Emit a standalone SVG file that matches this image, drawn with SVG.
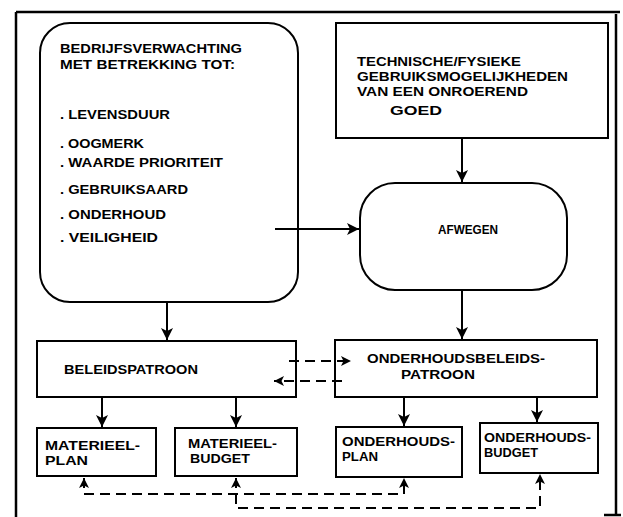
<svg xmlns="http://www.w3.org/2000/svg" width="623" height="517" viewBox="0 0 623 517">
<defs>
<marker id="ah" markerUnits="userSpaceOnUse" markerWidth="14" markerHeight="14" refX="12" refY="6" orient="auto-start-reverse" viewBox="0 0 14 12">
<path d="M0,0 L12,6 L0,12 L3,6 Z" fill="#000"/>
</marker>
<marker id="ahs" markerUnits="userSpaceOnUse" markerWidth="11" markerHeight="10" refX="10" refY="5" orient="auto-start-reverse" viewBox="0 0 11 10">
<path d="M0,0 L10,5 L0,10 L2.5,5 Z" fill="#000"/>
</marker>
</defs>
<style>
.box{fill:none;stroke:#000;stroke-width:2}
.t{font-family:"Liberation Sans",Arial,sans-serif;font-weight:bold;font-size:13px;fill:#000}
.c{fill:none;stroke:#000;stroke-width:2}
.d{fill:none;stroke:#000;stroke-width:2;stroke-dasharray:10 6}
.frame{fill:none;stroke:#000;stroke-width:2.5}
</style>
<rect width="623" height="517" fill="#fff"/>
<g id="frame">
<path class="frame" d="M16,12 H620 M16,12 V517 M616,14 V516 M604,515 H621"/>
</g>
<g id="bedrijfsverwachting">
<rect class="box" x="40" y="23" width="258" height="279" rx="30"/>
<text class="t" x="60" y="53" textLength="182" lengthAdjust="spacingAndGlyphs">BEDRIJFSVERWACHTING</text>
<text class="t" x="60" y="69" textLength="175" lengthAdjust="spacingAndGlyphs">MET BETREKKING TOT:</text>
<text class="t" x="60" y="119" textLength="110" lengthAdjust="spacingAndGlyphs">. LEVENSDUUR</text>
<text class="t" x="60" y="148" textLength="84" lengthAdjust="spacingAndGlyphs">. OOGMERK</text>
<text class="t" x="60" y="167" textLength="163" lengthAdjust="spacingAndGlyphs">. WAARDE PRIORITEIT</text>
<text class="t" x="60" y="194" textLength="128" lengthAdjust="spacingAndGlyphs">. GEBRUIKSAARD</text>
<text class="t" x="60" y="219" textLength="106" lengthAdjust="spacingAndGlyphs">. ONDERHOUD</text>
<text class="t" x="60" y="242" textLength="98" lengthAdjust="spacingAndGlyphs">. VEILIGHEID</text>
</g>
<g id="technische">
<rect class="box" x="336" y="23" width="272" height="115"/>
<text class="t" x="357" y="66" textLength="164" lengthAdjust="spacingAndGlyphs">TECHNISCHE/FYSIEKE</text>
<text class="t" x="357" y="81" textLength="211" lengthAdjust="spacingAndGlyphs">GEBRUIKSMOGELIJKHEDEN</text>
<text class="t" x="357" y="96" textLength="171" lengthAdjust="spacingAndGlyphs">VAN EEN ONROEREND</text>
<text class="t" x="390" y="115" textLength="52" lengthAdjust="spacingAndGlyphs">GOED</text>
</g>
<g id="afwegen">
<rect class="box" x="360" y="183" width="207" height="107" rx="35"/>
<text class="t" x="438" y="234" textLength="60" lengthAdjust="spacingAndGlyphs">AFWEGEN</text>
</g>
<g id="beleidspatroon">
<rect class="box" x="37" y="341" width="259" height="56"/>
<text class="t" x="64" y="374" textLength="134" lengthAdjust="spacingAndGlyphs">BELEIDSPATROON</text>
</g>
<g id="onderhoudsbeleidspatroon">
<rect class="box" x="335" y="340" width="262" height="57"/>
<text class="t" x="367" y="363" textLength="178" lengthAdjust="spacingAndGlyphs">ONDERHOUDSBELEIDS-</text>
<text class="t" x="401" y="379" textLength="74" lengthAdjust="spacingAndGlyphs">PATROON</text>
</g>
<g id="materieelplan">
<rect class="box" x="37" y="428" width="119" height="48"/>
<text class="t" x="45" y="450" textLength="95" lengthAdjust="spacingAndGlyphs">MATERIEEL-</text>
<text class="t" x="45" y="465" textLength="43" lengthAdjust="spacingAndGlyphs">PLAN</text>
</g>
<g id="materieelbudget">
<rect class="box" x="175" y="428" width="122" height="48"/>
<text class="t" x="188" y="448" textLength="89" lengthAdjust="spacingAndGlyphs">MATERIEEL-</text>
<text class="t" x="190" y="463" textLength="60" lengthAdjust="spacingAndGlyphs">BUDGET</text>
</g>
<g id="onderhoudsplan">
<rect class="box" x="336" y="427" width="126" height="50"/>
<text class="t" x="342" y="446" textLength="113" lengthAdjust="spacingAndGlyphs">ONDERHOUDS-</text>
<text class="t" x="342" y="461" textLength="36" lengthAdjust="spacingAndGlyphs">PLAN</text>
</g>
<g id="onderhoudsbudget">
<rect class="box" x="480" y="423" width="118" height="50"/>
<text class="t" x="484" y="442" textLength="107" lengthAdjust="spacingAndGlyphs">ONDERHOUDS-</text>
<text class="t" x="484" y="457" textLength="54" lengthAdjust="spacingAndGlyphs">BUDGET</text>
</g>
<g id="connectors">
<path class="c" d="M275,229 H359" marker-end="url(#ah)"/>
<path class="c" d="M462,138 V182" marker-end="url(#ah)"/>
<path class="c" d="M462,290 V339" marker-end="url(#ah)"/>
<path class="c" d="M167,302 V340" marker-end="url(#ah)"/>
<path class="c" d="M102,397 V427" marker-end="url(#ah)"/>
<path class="c" d="M236,397 V427" marker-end="url(#ah)"/>
<path class="c" d="M404,397 V426" marker-end="url(#ah)"/>
<path class="c" d="M537,397 V422" marker-end="url(#ah)"/>
<path class="d" d="M289,361 H351" marker-end="url(#ahs)"/>
<path class="d" d="M342,381 H274" marker-end="url(#ahs)"/>
<path class="d" d="M84,478 V494 H404 V478" marker-start="url(#ahs)" marker-end="url(#ahs)"/>
<path class="d" d="M236,478 V508 H540 V474" marker-start="url(#ahs)" marker-end="url(#ahs)"/>
</g>
</svg>
